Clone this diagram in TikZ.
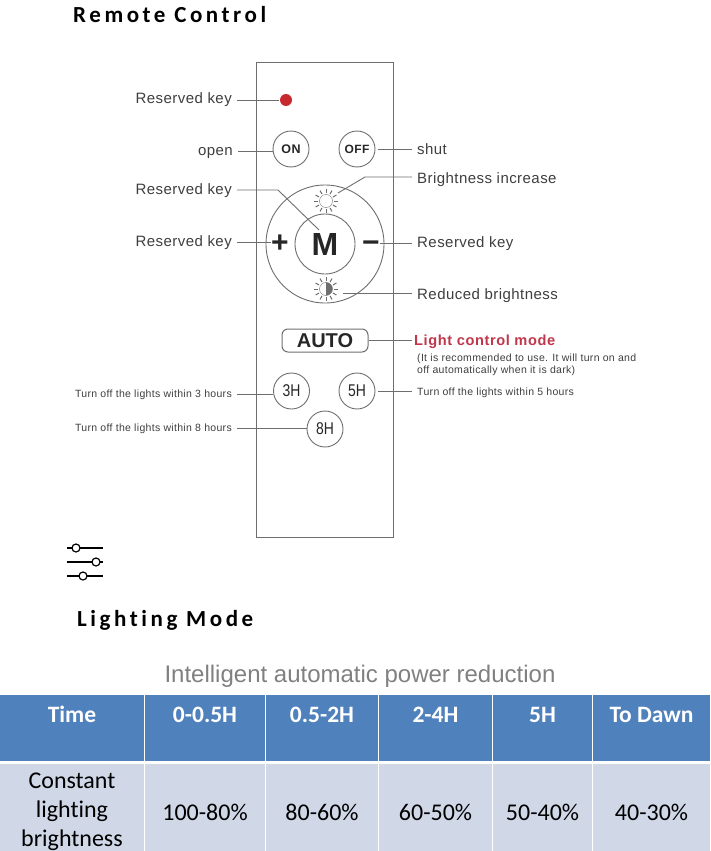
\documentclass[tikz,border=0pt]{standalone}
\usepackage{fontspec}
\setmainfont{Liberation Sans}
\newfontfamily\calibri[Ligatures=NoCommon]{Carlito}
\newfontfamily\titlefont[LetterSpace=15.5,Ligatures=NoCommon]{Carlito}
\newfontfamily\keyfont[LetterSpace=3]{Liberation Sans}
\newfontfamily\modefont[LetterSpace=4]{Liberation Sans}
\definecolor{rcgray}{RGB}{110,110,110}
\definecolor{rctext}{RGB}{62,62,62}
\definecolor{rcred}{RGB}{200,40,48}
\definecolor{rcmode}{RGB}{190,55,75}
\definecolor{tblhead}{RGB}{79,129,189}
\definecolor{tblbody}{RGB}{208,216,232}
\tikzset{
  keylabel/.style={font=\keyfont\fontsize{15}{16}\selectfont, text=rctext, inner xsep=5pt, inner ysep=0pt, text height=11pt, text depth=3pt},
  smalllabel/.style={font=\keyfont\fontsize{10.5}{12}\selectfont, text=rctext, inner xsep=5pt, inner ysep=0pt, text height=8pt, text depth=2pt},
  wire/.style={draw=rcgray, line width=0.9pt},
  btn/.style={draw=rcgray, line width=0.9pt, circle, minimum size=36pt, inner sep=0pt, text=black!85},
  rctitle/.style={font=\titlefont\bfseries\fontsize{23}{24}\selectfont, text=black, anchor=west, inner sep=0pt},
  headtext/.style={font=\calibri\bfseries\fontsize{23.5}{26}\selectfont, text=white, inner sep=0pt, text height=15pt, text depth=0pt},
  celltext/.style={font=\calibri\fontsize{24}{29}\selectfont, text=black, inner sep=0pt, align=center},
}
\begin{document}
\begin{tikzpicture}[x=1pt,y=-1pt]
  \useasboundingbox (0,0) rectangle (710,851);
  % Titles
  \node[rctitle] (rctitle) at (73,15) {Remote Control};
  \node[rctitle] (modetitle) at (77,620.5) {Lighting Mode};

  % Remote body
  \node[draw=rcgray, line width=0.9pt, minimum width=137pt, minimum height=475pt, inner sep=0pt] (body) at (324.5,299.5) {};

  % Buttons
  \node[circle, fill=rcred, minimum size=12pt, inner sep=0pt] (led) at (286,100) {};
  \node[btn, font=\keyfont\bfseries\fontsize{12.5}{14}\selectfont] (on) at (291,149) {ON};
  \node[btn, font=\keyfont\bfseries\fontsize{12}{14}\selectfont] (off) at (357,149) {OFF};
  \node[btn, minimum size=118pt] (ring) at (325,244) {};
  \node[btn, minimum size=60pt, font=\bfseries\fontsize{32}{34}\selectfont] (mkey) at (325,244) {M};
  \node[font=\bfseries\fontsize{30}{32}\selectfont, inner sep=0pt, text=black!85] (plus) at (280,244) {+};
  \node[font=\bfseries\fontsize{30}{32}\selectfont, inner sep=0pt, text=black!85] (minus) at (371,247) {−};
  \node[draw=rcgray, line width=1pt, rounded corners=6pt, minimum width=86pt, minimum height=23pt, inner sep=0pt, font=\bfseries\fontsize{20}{22}\selectfont, text=black!85] (auto) at (325,340.5) {AUTO};
  \node[btn, font=\fontsize{17}{19}\selectfont] (h3) at (291.5,391) {\scalebox{0.82}[1]{3H}};
  \node[btn, font=\fontsize{17}{19}\selectfont] (h5) at (357,391) {\scalebox{0.82}[1]{5H}};
  \node[btn, font=\fontsize{17}{19}\selectfont] (h8) at (325,429) {\scalebox{0.82}[1]{8H}};

  % Sun icons
  \node[circle, draw=rcgray, minimum size=13pt, inner sep=0pt] (sunup) at (326,201) {};
  \node[circle, draw=rcgray, minimum size=13pt, inner sep=0pt] (sundown) at (326,289) {};
  \fill[rcgray] (sundown.north) arc (90:-90:6.5pt) -- cycle;
  \foreach \a in {0,30,...,330} {
    \draw[rcgray, line width=1pt] (sunup) ++(\a:8pt) -- ++(\a:4pt);
    \draw[rcgray, line width=1pt] (sundown) ++(\a:8pt) -- ++(\a:4pt);
  }

  % Left labels
  \node[keylabel, anchor=east] (lled) at (237,99) {Reserved key};
  \node[keylabel, anchor=east] (lopen) at (238,151) {open};
  \node[keylabel, anchor=east] (lm) at (237,190) {Reserved key};
  \node[keylabel, anchor=east] (lplus) at (237,242) {Reserved key};
  \node[smalllabel, anchor=east] (lh3) at (237,394) {Turn off the lights within 3 hours};
  \node[smalllabel, anchor=east] (lh8) at (237,428) {Turn off the lights within 8 hours};

  % Right labels
  \node[keylabel, anchor=west] (loff) at (412,150) {shut};
  \node[keylabel, anchor=west] (lup) at (412,179) {Brightness increase};
  \node[keylabel, anchor=west] (lminus) at (412,243) {Reserved key};
  \node[keylabel, anchor=west] (ldown) at (412,295) {Reduced brightness};
  \node[keylabel, anchor=west, text=rcmode, font=\modefont\bfseries\fontsize{14.6}{16}\selectfont, inner xsep=2pt] (lauto) at (412,341) {Light control mode};
  \node[smalllabel, anchor=north west, text height=, text depth=, align=left] (lnote) at (412,354) {(It is recommended to use. It will turn on and\\off automatically when it is dark)};
  \node[smalllabel, anchor=west] (lh5) at (412,392) {Turn off the lights within 5 hours};

  % Connectors
  \coordinate (mbend) at (278,190);
  \coordinate (mend) at (319,230);
  \coordinate (upbend) at (365,177);
  \coordinate (upend) at (338,193);
  \coordinate (downend) at (343,293);
  \draw[wire] (lled.east |- led) -- ([xshift=-1pt]led.west);
  \draw[wire] (lopen.east) -- (lopen.east -| on.west);
  \draw[wire, shorten <=3pt] (off.east) -- (loff.west |- off.east);
  \draw[wire] (lm.east |- mbend) -- (mbend) -- (mend);
  \draw[wire] (lplus.east) -- (lplus.east -| plus.west);
  \draw[wire] (lup.west |- upbend) -- (upbend) -- (upend);
  \draw[wire] (minus.east |- lminus) -- (lminus.west);
  \draw[wire] (downend) -- (ldown.west |- downend);
  \draw[wire] (auto.east) -- (lauto.west |- auto.east);
  \draw[wire] (lh3.east) -- (lh3.east -| h3.west);
  \draw[wire, shorten <=3pt] (h5.east) -- (lh5.west |- h5.east);
  \draw[wire] (lh8.east) -- (lh8.east -| h8.west);

  % Slider icon
  \foreach \y/\k in {548/76,562/96,576/83} {
    \draw[black, line width=1.2pt] (67,\y) -- (103,\y);
    \draw[black, line width=1.2pt, fill=white] (\k,\y) circle (4pt);
  }

  % Table
  \node[font=\fontsize{24}{26}\selectfont, text=black!50, inner sep=0pt] (tbltitle) at (360,676) {Intelligent automatic power reduction};
  \foreach \xa/\xb/\tm/\pc in {145/265/0-0.5H/100-80\%, 266/378/0.5-2H/80-60\%, 379/492/2-4H/60-50\%, 493/592/5H/50-40\%, 593/710/To Dawn/40-30\%} {
    \fill[tblhead] (\xa,695) rectangle (\xb,761);
    \fill[tblbody] (\xa,764) rectangle (\xb,851);
    \node[headtext] at ({(\xa+\xb)/2},714.5) {\tm};
    \node[celltext] at ({(\xa+\xb)/2},812) {\pc};
  }
  \fill[tblhead] (0,695) rectangle (144,761);
  \fill[tblbody] (0,764) rectangle (144,851);
  \node[headtext] (thtime) at (72,714.5) {Time};
  \node[celltext] (tdrow) at (72,811.5) {Constant\\lighting\\brightness};
\end{tikzpicture}
\end{document}
